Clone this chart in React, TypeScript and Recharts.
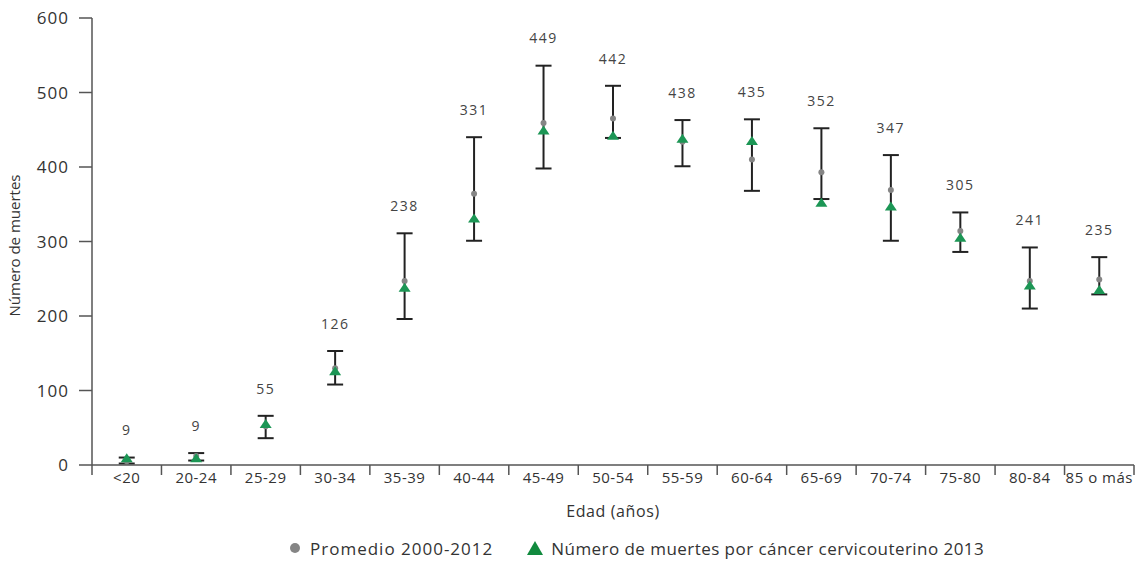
import { ComposedChart, Scatter, XAxis, YAxis, ErrorBar, LabelList, Legend } from 'recharts'

const ageGroups = ['<20', '20-24', '25-29', '30-34', '35-39', '40-44', '45-49', '50-54', '55-59', '60-64', '65-69', '70-74', '75-80', '80-84', '85 o más']
const deaths2013 = [9, 9, 55, 126, 238, 331, 449, 442, 438, 435, 352, 347, 305, 241, 235]
const avg0012 = [5, 12, 52, 130, 247, 364, 459, 465, 434, 410, 393, 369, 314, 247, 249]
const rangeLow = [2, 6, 36, 108, 196, 301, 398, 439, 401, 368, 357, 301, 286, 210, 229]
const rangeHigh = [10, 16, 66, 153, 311, 440, 536, 509, 463, 464, 452, 416, 339, 292, 279]
const yTicks = [0, 100, 200, 300, 400, 500, 600]

const data = ageGroups.map((g, i) => ({
  age: g,
  avg: avg0012[i],
  deaths: deaths2013[i],
  hi: rangeHigh[i],
  err: [avg0012[i] - rangeLow[i], rangeHigh[i] - avg0012[i]],
}))

const W = 1140
const H = 567
const LEFT = 92
const RIGHT = 6
const BAND = (W - LEFT - RIGHT) / ageGroups.length
const GREEN = '#1c9655'
const GREY = '#858585'
const AXIS = '#555'

function XTick(props: any) {
  const { x, y, payload, index } = props
  const left = x - BAND / 2
  const right = x + BAND / 2
  return (
    <g>
      <line x1={left} y1={y} x2={left} y2={y + 10} stroke={AXIS} strokeWidth={1.5} />
      {index === ageGroups.length - 1 && (
        <line x1={right} y1={y} x2={right} y2={y + 10} stroke={AXIS} strokeWidth={1.5} />
      )}
      <text x={x} y={y + 14} textAnchor="middle" dominantBaseline="middle" fontSize={15} fill="#333" letterSpacing={0.5}>
        {payload.value}
      </text>
    </g>
  )
}

function Dot(props: any) {
  const { cx, cy } = props
  return <circle cx={cx} cy={cy} r={3} fill={GREY} />
}

function Tri(props: any) {
  const { cx, cy } = props
  return <polygon points={`${cx},${cy - 5} ${cx - 6},${cy + 4} ${cx + 6},${cy + 4}`} fill={GREEN} />
}

function Legendbox() {
  return (
    <div style={{ display: 'flex', alignItems: 'center', paddingLeft: 289, fontSize: 17, color: '#333', height: 30 }}>
      <svg width={12} height={12} style={{ marginRight: 9 }}>
        <circle cx={6} cy={6} r={5} fill={GREY} />
      </svg>
      <span style={{ letterSpacing: 1 }}>Promedio 2000-2012</span>
      <svg width={16} height={14} style={{ marginLeft: 34, marginRight: 8 }}>
        <polygon points="8,0 0,14 16,14" fill="#118a3e" />
      </svg>
      <span style={{ letterSpacing: 0.45 }}>Número de muertes por cáncer cervicouterino 2013</span>
    </div>
  )
}

export default function App() {
  return (
    <div style={{ position: 'absolute', left: 0, top: 0, background: '#fff' }}>
      <ComposedChart
        width={W}
        height={H}
        data={data}
        margin={{ top: 18, right: RIGHT, left: 0, bottom: 4 }}
        style={{ fontFamily: '"Open Sans", sans-serif' }}
      >
        <XAxis
          dataKey="age"
          type="category"
          height={68}
          padding={{ left: BAND / 2, right: BAND / 2 }}
          tickLine={false}
          tickSize={0}
          tickMargin={0}
          interval={0}
          tick={<XTick />}
          stroke={AXIS}
          strokeWidth={1.5}
          label={{ value: 'Edad (años)', position: 'insideBottom', offset: 16, fontSize: 16, fill: '#333', letterSpacing: 0.6 }}
        />
        <YAxis
          width={LEFT}
          domain={[0, 600]}
          ticks={yTicks}
          tickSize={13}
          tickMargin={10}
          stroke={AXIS}
          strokeWidth={1.5}
          tick={{ fontSize: 17, fill: '#333', letterSpacing: 1 }}
          label={{
            content: (p: any) => {
              const vb = p.viewBox
              const cx = 16
              const cy = vb.y + vb.height / 2 + 4
              return (
                <text transform={`translate(${cx},${cy}) rotate(-90)`} textAnchor="middle" dominantBaseline="middle" fontSize={15} fill="#333">
                  Número de muertes
                </text>
              )
            },
          }}
        />
        <Legend verticalAlign="bottom" height={30} wrapperStyle={{ left: 0, width: W }} content={<Legendbox />} />
        <Scatter dataKey="avg" name="Promedio 2000-2012" shape={<Dot />} isAnimationActive={false}>
          <ErrorBar dataKey="err" direction="y" width={8} stroke="#222" strokeWidth={2} />
        </Scatter>
        <Scatter dataKey="deaths" name="Número de muertes por cáncer cervicouterino 2013" shape={<Tri />} isAnimationActive={false} />
        <Scatter dataKey="hi" legendType="none" shape={() => <g />} isAnimationActive={false}>
          <LabelList
            dataKey="deaths"
            content={(p: any) => (
              <text
                x={p.x + p.width / 2}
                y={p.y + p.height / 2 - 26}
                textAnchor="middle"
                dominantBaseline="middle"
                fontSize={14}
                fill="#444"
                letterSpacing={1.5}
              >
                {p.value}
              </text>
            )}
          />
        </Scatter>
      </ComposedChart>
    </div>
  )
}
